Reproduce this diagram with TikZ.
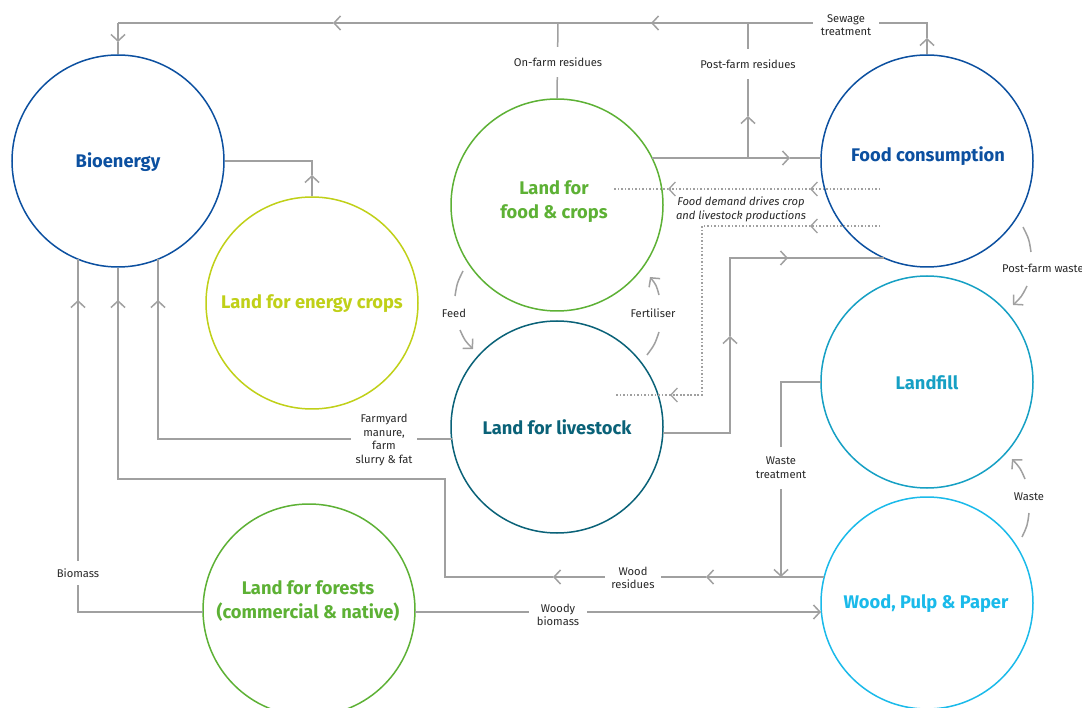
\documentclass[tikz,border=0pt]{standalone}
\usepackage{fontspec}
\setmainfont{Fira Sans}
\usetikzlibrary{arrows.meta}
\definecolor{cblue}{RGB}{12,80,160}
\definecolor{clime}{RGB}{192,208,24}
\definecolor{cgreen}{RGB}{93,177,53}
\definecolor{cteal}{RGB}{10,98,120}
\definecolor{cland}{RGB}{22,160,196}
\definecolor{cwood}{RGB}{26,186,234}
\definecolor{cgray}{RGB}{160,160,160}
\definecolor{ctext}{RGB}{40,40,40}
\begin{document}
\begin{tikzpicture}[x=1pt,y=-1pt,
  circ/.style={circle, minimum size=212pt, inner sep=0pt, line width=1.5pt},
  ttl/.style={font=\bfseries\fontsize{18.3}{24}\selectfont, align=center, inner sep=0pt},
  flow/.style={draw=cgray, line width=1.5pt},
  tipped/.style={flow, -{Straight Barb[length=6.5pt,width=14pt]}},
  dots/.style={draw=cgray, line width=1.3pt, dash pattern=on 1.3pt off 2.2pt},
  dtipped/.style={dots, -{Straight Barb[length=6.5pt,width=14pt]}},
  lbl/.style={font=\fontsize{11.2}{13.7}\selectfont, text=ctext, align=center, fill=white},
]
\useasboundingbox[fill=white] (0,0) rectangle (1082,708);

% circles
\node[circ, draw=cblue] (bio) at (118,161) {};
\node[circ, draw=clime] (ec) at (312,303) {};
\node[circ, draw=cgreen] (fcr) at (557,205) {};
\node[circ, draw=cblue] (fc) at (927,161) {};
\node[circ, draw=cteal] (ls) at (557,427) {};
\node[circ, draw=cland] (lf) at (927,382) {};
\node[circ, draw=cwood] (wpp) at (927,603) {};
\node[circ, draw=cgreen] (lff) at (309,610) {};

% titles
\node[ttl, text=cblue] (tbio) at (118,162.5) {Bioenergy};
\node[ttl, text=clime] (tec) at (312,303.5) {Land for energy crops};
\node[ttl, text=cgreen] (tfcr) at (554,202) {Land for\\food \& crops};
\node[ttl, text=cblue] (tfc) at (928,156.5) {Food consumption};
\node[ttl, text=cteal] (tls) at (557,427) {Land for livestock};
\node[ttl, text=cland] (tlf) at (927,383) {Landfill};
\node[ttl, text=cwood] (twpp) at (926,604) {Wood, Pulp \& Paper};
\node[ttl, text=cgreen] (tlff) at (308,601) {Land for forests\\(commercial \& native)};

% coordinates
\coordinate (fcTop) at (927,23);
\coordinate (bioTop) at (118,23);
\coordinate (onf) at (558,23);
\coordinate (pf) at (748,23);
\coordinate (pfJ) at (748,158);
\coordinate (fcrE) at (652,158);
\coordinate (fcW) at (821,158);
\coordinate (ecC) at (312,161);
\coordinate (lsE) at (663,433);
\coordinate (lsC1) at (730,433);
\coordinate (lsC2) at (730,258);
\coordinate (fcB) at (884,258);
\coordinate (lfW) at (821,382);
\coordinate (wtC) at (781,382);
\coordinate (wtJ) at (781,577);
\coordinate (wpW) at (824,577);
\coordinate (wrC1) at (445,577);
\coordinate (wrC2) at (445,479);
\coordinate (wrC3) at (118,479);
\coordinate (lsW) at (452,439);
\coordinate (fyC) at (158,439);
\coordinate (bioB2) at (158,259);
\coordinate (lffW) at (203,612);
\coordinate (bmC) at (78,612);
\coordinate (bioB1) at (78,259);
\coordinate (lffE) at (415,612);
\coordinate (wpW2) at (821,612);

% top line: sewage, post-farm and on-farm residues to bioenergy
\draw[tipped] (fc.north) -- (927,38);
\draw[flow] (927,38) -- (fcTop) -- (651,23);
\draw[tipped] (fcTop) -- (651,23);
\draw[tipped] (651,23) -- (333,23);
\draw[flow] (333,23) -- (bioTop);
\draw[tipped] (bioTop) -- (118,42);
\draw[flow] (118,42) -- (bio.north);
\draw[flow] (fcr.north) -- (onf);
\draw[tipped] (pfJ) -- (748,116);
\draw[flow] (748,116) -- (pf);

% food & crops -> food consumption
\draw[tipped] (fcrE) -- (790,158);
\draw[flow] (790,158) -- (fcW);

% energy crops -> bioenergy
\draw[tipped] (ec.north) -- (312,175);
\draw[flow] (312,175) -- (ecC) -- (bio.east);

% dotted demand lines
\draw[dtipped] (880,189) -- (810,189);
\draw[dtipped] (810,189) -- (668,189);
\draw[dots] (668,189) -- (613,189);
\draw[dtipped] (880,226) -- (810,226);
\draw[dots] (810,226) -- (702,226) -- (702,395) -- (670,395);
\draw[dtipped] (702,395) -- (670,395);
\draw[dots] (670,395) -- (616,395);

% livestock -> food consumption
\draw[tipped] (lsE) -- (lsC1) -- (730,336);
\draw[flow] (730,336) -- (lsC2) -- (788,258);
\draw[tipped] (lsC2) -- (788,258);
\draw[flow] (788,258) -- (fcB);

% landfill -> waste treatment
\draw[tipped] (lfW) -- (wtC) -- (wtJ);

% wood residues
\draw[tipped] (wpW) -- (706,577);
\draw[tipped] (706,577) -- (553,577);
\draw[flow] (553,577) -- (wrC1) -- (wrC2) -- (wrC3) -- (118,300);
\draw[tipped] (wrC3) -- (118,300);
\draw[flow] (118,300) -- (bio.south);

% farmyard manure
\draw[flow] (lsW) -- (fyC) -- (158,300);
\draw[tipped] (fyC) -- (158,300);
\draw[flow] (158,300) -- (bioB2);

% biomass
\draw[flow] (lffW) -- (bmC) -- (78,300);
\draw[tipped] (bmC) -- (78,300);
\draw[flow] (78,300) -- (bioB1);

% woody biomass
\draw[tipped] (lffE) -- (wpW2);

% arcs
\draw[flow] (463,271) .. controls (457.1,282.9) .. (455,296);
\draw[tipped] (460,330) .. controls (464.8,340.6) .. (473,349);
\draw[flow] (647,355) .. controls (654.8,344.4) .. (659,332);
\draw[tipped] (659,295) .. controls (656.3,285.1) .. (650,277);
\draw[flow] (1023,227) .. controls (1029,239) .. (1031,252);
\draw[tipped] (1027,286) .. controls (1021.6,296.7) .. (1013,305);
\draw[flow] (1022,537) .. controls (1027.4,525.6) .. (1029,513);
\draw[tipped] (1025,479) .. controls (1020.2,467.9) .. (1012,459);

% labels
\node[lbl, inner xsep=8pt, inner ysep=2pt] (lsew) at (846,25) {Sewage\\treatment};
\node[lbl, inner xsep=4pt, inner ysep=11pt] (lonf) at (558,62) {On-farm residues};
\node[lbl, inner xsep=4pt, inner ysep=11pt] (lpf) at (748,64) {Post-farm residues};
\node[lbl, fill=none, font=\itshape\fontsize{11.2}{13.7}\selectfont] (ldem) at (741,209) {Food demand drives crop\\and livestock productions};
\node[lbl, fill=none] (lfeed) at (454,313) {Feed};
\node[lbl, fill=none] (lfert) at (653,313) {Fertiliser};
\node[lbl, fill=none, anchor=west, inner sep=0pt] (lpfw) at (1002,268) {Post-farm waste};
\node[lbl, fill=none] (lwaste) at (1029,497) {Waste};
\node[lbl, inner xsep=2pt, inner ysep=10pt] (lwt) at (781,468) {Waste\\treatment};
\node[lbl, inner xsep=6pt, inner ysep=2pt] (lwr) at (633,578) {Wood\\residues};
\node[lbl, inner xsep=5pt, inner ysep=1pt] (lfy) at (384,440) {Farmyard\\manure,\\farm\\slurry \& fat};
\node[lbl, inner xsep=2pt, inner ysep=8pt] (lbm) at (78,573) {Biomass};
\node[lbl, inner xsep=8pt, inner ysep=2pt] (lwb) at (558,615) {Woody\\biomass};
\end{tikzpicture}
\end{document}
